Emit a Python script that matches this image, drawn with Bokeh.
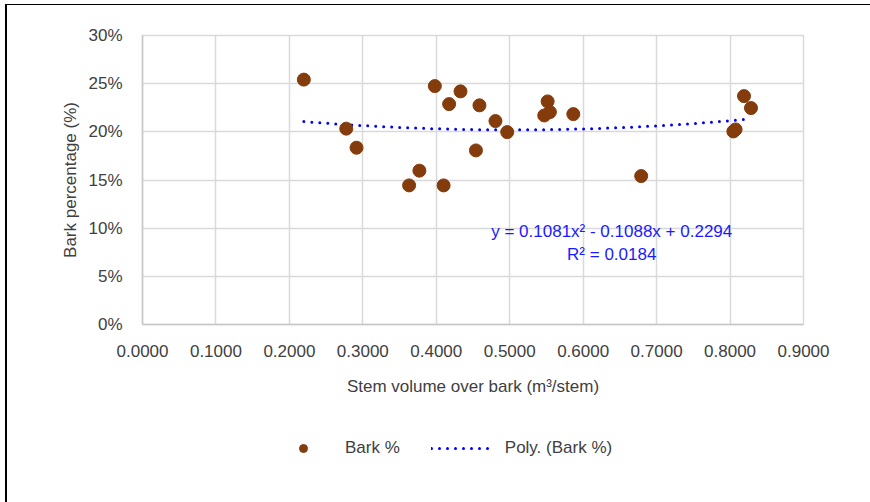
import numpy as np
from bokeh.plotting import figure
from bokeh.layouts import column
from bokeh.models import (Range1d, FixedTicker, NumeralTickFormatter, Legend,
                          LegendItem, Label)
from bokeh.embed import file_html
from bokeh.resources import INLINE

# ---- data ----
stem_volume = [0.2197, 0.2774, 0.2914, 0.3630, 0.3770, 0.3980, 0.4100, 0.4175,
               0.4330, 0.4540, 0.4588, 0.4806, 0.4966, 0.5470, 0.5516, 0.5547,
               0.5866, 0.6790, 0.8045, 0.8075, 0.8190, 0.8285]
bark_pct = [0.2542, 0.2033, 0.1835, 0.1444, 0.1597, 0.2475, 0.1444, 0.2288,
            0.2420, 0.1807, 0.2275, 0.2112, 0.1997, 0.2170, 0.2316, 0.2205,
            0.2184, 0.1541, 0.2004, 0.2025, 0.2371, 0.2247]

# trendline as printed on the chart (quadratic)
poly_coef = [0.1081, -0.1088, 0.2294]
equation_text = "y = 0.1081x\u00b2 - 0.1088x + 0.2294"
r2_text = "R\u00b2 = 0.0184"

x_ticks = [0.0, 0.1, 0.2, 0.3, 0.4, 0.5, 0.6, 0.7, 0.8, 0.9]
x_tick_labels = ["0.0000", "0.1000", "0.2000", "0.3000", "0.4000", "0.5000",
                 "0.6000", "0.7000", "0.8000", "0.9000"]
y_ticks = [0.0, 0.05, 0.10, 0.15, 0.20, 0.25, 0.30]
y_tick_labels = ["0%", "5%", "10%", "15%", "20%", "25%", "30%"]

x_title = "Stem volume over bark (m\u00b3/stem)"
y_title = "Bark percentage (%)"
series_names = ["Bark %", "Poly. (Bark %)"]

FONT = "Liberation Sans"
TXT = "#404040"
GRID = "#d9d9d9"
PT_COLOR = "#843C0C"
TREND_COLOR = "#0000FF"

# ---------------- main chart ----------------
p = figure(width=863, height=419, output_backend="svg", toolbar_location=None,
           x_range=Range1d(x_ticks[0], x_ticks[-1]),
           y_range=Range1d(y_ticks[0], y_ticks[-1]),
           min_border_left=135, min_border_right=67,
           min_border_top=30, min_border_bottom=100)
p.outline_line_color = GRID
p.outline_line_width = 1.5
p.background_fill_color = "white"
p.border_fill_color = "white"

p.xaxis.ticker = FixedTicker(ticks=x_ticks)
p.yaxis.ticker = FixedTicker(ticks=y_ticks)
p.xaxis.formatter = NumeralTickFormatter(format="0.0000")
p.yaxis.formatter = NumeralTickFormatter(format="0%")
p.xaxis.major_label_overrides = dict(zip(x_ticks, x_tick_labels))
p.yaxis.major_label_overrides = dict(zip(y_ticks, y_tick_labels))
for ax in (p.xaxis[0], p.yaxis[0]):
    ax.major_tick_line_color = None
    ax.minor_tick_line_color = None
    ax.major_tick_out = 0
    ax.major_tick_in = 0
    ax.axis_line_color = "#c8c8c8"
    ax.axis_line_width = 1.5
    ax.major_label_text_font = FONT
    ax.major_label_text_font_size = "17px"
    ax.major_label_text_color = TXT
    ax.axis_label_text_font = FONT
    ax.axis_label_text_font_size = "17px"
    ax.axis_label_text_font_style = "normal"
    ax.axis_label_text_color = TXT
p.xaxis.axis_label = x_title
p.yaxis.axis_label = y_title
p.xaxis.major_label_standoff = 20
p.yaxis.major_label_standoff = 20
p.xaxis.axis_label_standoff = 17
p.yaxis.axis_label_standoff = 5

p.grid.grid_line_color = GRID
p.grid.grid_line_width = 1.5

# trendline from the printed polynomial
tx = np.linspace(min(stem_volume), max(stem_volume), 200)
ty = np.polyval(poly_coef, tx)
p.line(tx, ty, line_color=TREND_COLOR, line_width=3, line_dash="0 8",
       line_cap="round")

# points
p.scatter(stem_volume, bark_pct, size=13, fill_color=PT_COLOR,
          line_color=PT_COLOR, marker="circle")

# equation labels
for txt, yv in ((equation_text, 0.0966), (r2_text, 0.0727)):
    p.add_layout(Label(x=0.6389, y=yv, text=txt, text_align="center",
                       text_baseline="middle", text_font=FONT,
                       text_font_size="17px", text_color="#1a1aff"))

# ---------------- legend strip ----------------
# same series, drawn into a y range that keeps them out of view, so the
# strip shows only the legend entries
lg = figure(width=863, height=78, output_backend="svg", toolbar_location=None,
            x_axis_type=None, y_axis_type=None,
            x_range=Range1d(x_ticks[0], x_ticks[-1]), y_range=Range1d(5, 6),
            min_border_left=0, min_border_right=0,
            min_border_top=0, min_border_bottom=0)
lg.outline_line_color = None
lg.grid.visible = False
lg_pts = lg.scatter(stem_volume, bark_pct, size=13, fill_color=PT_COLOR,
                    line_color=PT_COLOR, marker="circle")
lg_line = lg.line(tx, ty, line_color=TREND_COLOR, line_width=3, line_dash="0 8",
                  line_cap="round")
legend = Legend(items=[LegendItem(label=series_names[0], renderers=[lg_pts]),
                       LegendItem(label=series_names[1], renderers=[lg_line])],
                orientation="horizontal", location=(129, 44), margin=0,
                glyph_width=64, glyph_height=20, label_standoff=10, spacing=31,
                padding=0, border_line_color=None,
                background_fill_alpha=0, label_text_font=FONT,
                label_text_font_size="17px", label_text_color=TXT)
lg.add_layout(legend, "center")

# the black cell border round the chart (left and top)
page = column(p, lg, spacing=0,
              styles={"margin-left": "5px", "margin-top": "4px",
                      "border-left": "2px solid black",
                      "border-top": "1px solid black"})

open("out.html", "w").write(file_html(page, INLINE))
